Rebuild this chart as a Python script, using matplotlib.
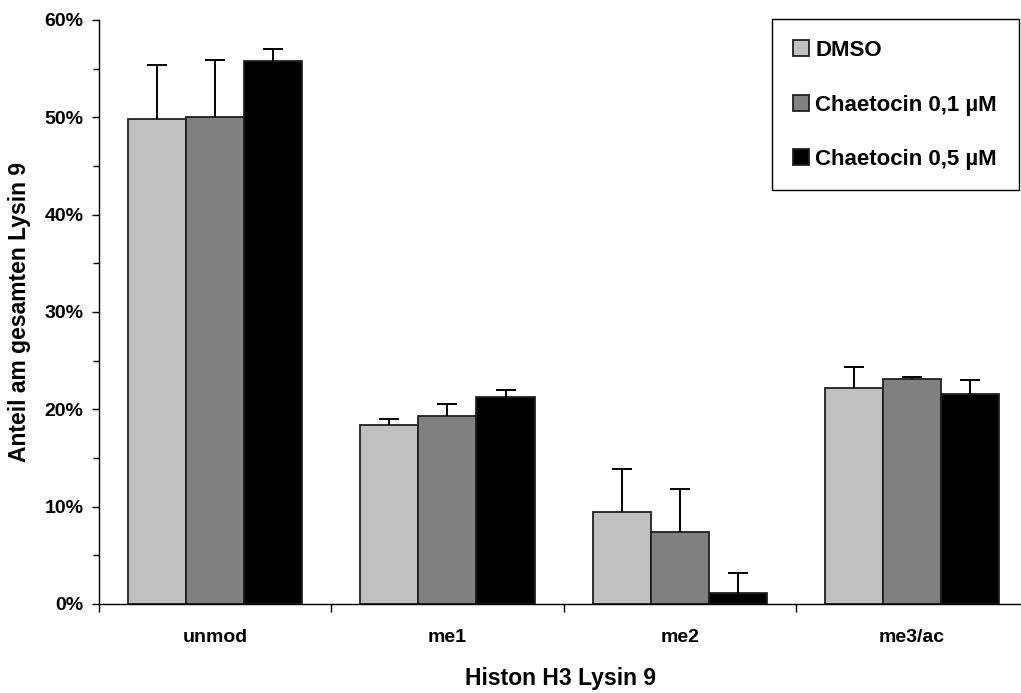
import numpy as np
import matplotlib
matplotlib.use("Agg")
from matplotlib import pyplot as plt
from matplotlib.patches import Rectangle
from matplotlib.ticker import MultipleLocator, FixedLocator, PercentFormatter

plt.rcParams['font.family'] = ['Liberation Sans', 'DejaVu Sans']
plt.rcParams['font.weight'] = 'bold'

categories = ["unmod", "me1", "me2", "me3/ac"]
series = ["DMSO", "Chaetocin 0,1 µM", "Chaetocin 0,5 µM"]
colors = ["#c0c0c0", "#808080", "#000000"]

# Anteil in %
dmso = [49.8, 18.4, 9.5, 22.2]
chaet_01 = [50.0, 19.3, 7.4, 23.1]
chaet_05 = [55.8, 21.3, 1.1, 21.6]
values = [dmso, chaet_01, chaet_05]

# Fehlerbalken (nur nach oben)
err_dmso = [5.6, 0.6, 4.4, 2.2]
err_01 = [5.9, 1.2, 4.4, 0.2]
err_05 = [1.2, 0.7, 2.1, 1.4]
errors = [err_dmso, err_01, err_05]

W, H = 1021, 693
fig = plt.figure(figsize=(W / 100, H / 100), dpi=100)
ax = fig.add_axes([99 / W, 1 - 604 / H, 922 / W, 584 / H])

x = np.arange(len(categories))
w = 0.25
for k in range(3):
    pos = x + (k - 1) * w
    ax.bar(pos, values[k], width=w, color=colors[k], edgecolor="#202020",
           linewidth=1.3, label=series[k], zorder=2)
    eb = ax.errorbar(pos, values[k], yerr=[np.zeros(4), errors[k]], fmt="none",
                     ecolor="black", elinewidth=1.4, capsize=7, capthick=1.4, zorder=3)
    # untere Kappen (auf der Balkenoberkante) ausblenden
    for cl in eb[1]:
        if np.allclose(cl.get_ydata(), values[k]):
            cl.set_visible(False)

ax.set_xlim(-0.5, -0.5 + 922 / 232.3)
ax.set_ylim(0, 60)
ax.yaxis.set_major_locator(MultipleLocator(10))
ax.yaxis.set_minor_locator(MultipleLocator(5))
ax.yaxis.set_major_formatter(PercentFormatter(decimals=0))
ax.tick_params(axis="y", which="major", direction="out", length=5, width=1, labelsize=14, pad=6)
ax.tick_params(axis="y", which="minor", direction="out", length=4, width=1)

ax.set_xticks(x)
ax.set_xticklabels(categories)
ax.xaxis.set_minor_locator(FixedLocator(np.arange(-0.5, 4, 1)))
ax.tick_params(axis="x", which="major", length=0, labelsize=14, pad=18)
ax.tick_params(axis="x", which="minor", direction="out", length=6, width=1)

for s in ["top", "right"]:
    ax.spines[s].set_visible(False)
ax.spines["left"].set_linewidth(1)
ax.spines["bottom"].set_linewidth(1)

ax.set_ylabel("Anteil am gesamten Lysin 9", fontsize=16.5, fontweight="bold")
ax.yaxis.set_label_coords((20 - 99) / 922, 0.5)
ax.yaxis.label.set_va("center")
ax.set_xlabel("Histon H3 Lysin 9", fontsize=16.5, fontweight="bold")
ax.xaxis.set_label_coords(0.5, -(679 - 604) / 584)
ax.xaxis.label.set_va("center")

# Legendenrahmen
fig.patches.append(Rectangle((772 / W, 1 - 190 / H), (1019 - 772) / W, (190 - 19) / H,
                             transform=fig.transFigure, facecolor="white",
                             edgecolor="black", linewidth=1, zorder=5))
leg = fig.legend(loc="center left", bbox_to_anchor=(793 / W, 1 - 105 / H),
                 fontsize=16, frameon=False,
                 handlelength=0.72, handleheight=0.72, handletextpad=0.27,
                 labelspacing=1.5, borderpad=0, borderaxespad=0)
leg.set_zorder(6)
for t in leg.get_texts():
    t.set_fontweight("bold")

fig.savefig("out.png", dpi=100)
